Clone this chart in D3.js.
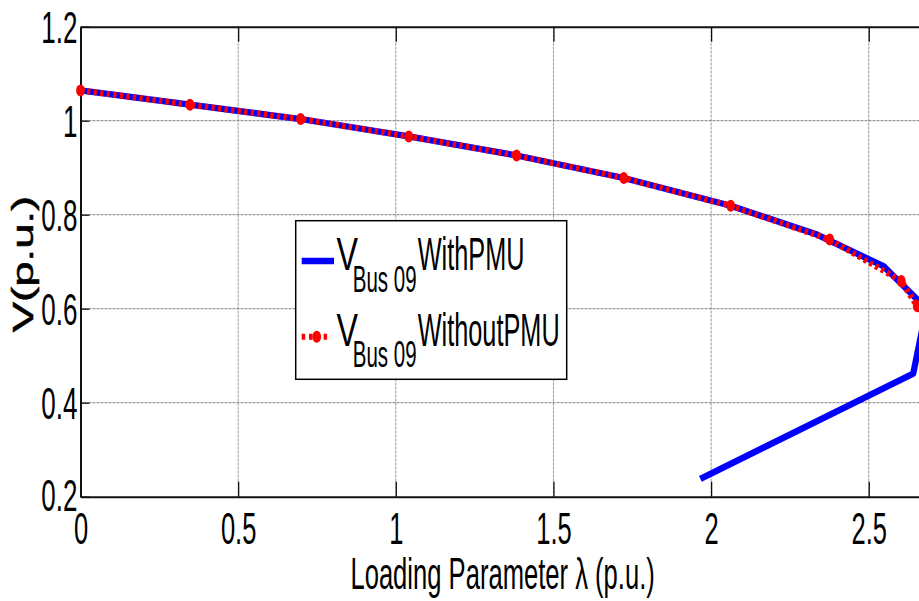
<!DOCTYPE html>
<html>
<head>
<meta charset="utf-8">
<script src="https://cdn.jsdelivr.net/npm/d3@7/dist/d3.min.js"></script>
<style>
  body { margin: 0; background: #fff; }
  svg { display: block; font-family: "Liberation Sans", Arial, sans-serif; }
</style>
</head>
<body>
<div id="chart"></div>
<script>
// values
const lambdaWithPMU = [0, 0.347, 0.698, 1.041, 1.383, 1.723, 2.062, 2.331, 2.548, 2.683, 2.641, 1.966];
const vWithPMU = [1.0645, 1.034, 1.0036, 0.9666, 0.926, 0.878, 0.819, 0.759, 0.690, 0.600, 0.462, 0.238];
const lambdaWithoutPMU = [0, 0.347, 0.698, 1.041, 1.383, 1.723, 2.062, 2.376, 2.603, 2.654];
const vWithoutPMU = [1.0645, 1.034, 1.0036, 0.9666, 0.926, 0.878, 0.819, 0.747, 0.659, 0.605];
const xTicks = [0, 0.5, 1, 1.5, 2, 2.5];
const xTickLabels = ["0", "0.5", "1", "1.5", "2", "2.5"];
const yTicks = [0.2, 0.4, 0.6, 0.8, 1, 1.2];
const yTickLabels = ["0.2", "0.4", "0.6", "0.8", "1", "1.2"];
const legendLabels = ["WithPMU", "WithoutPMU"];

const W = 919, H = 601;
const plotLeft = 80.5, plotTop = 26.7, plotBottom = 496.7, plotRight = 919.4;

const svg = d3.select("#chart").append("svg")
  .attr("width", W)
  .attr("height", H);

const x = d3.scaleLinear().domain([0, 2.6606]).range([plotLeft, plotRight]);
const y = d3.scaleLinear().domain([0.2, 1.2]).range([plotBottom, plotTop]);

svg.append("clipPath").attr("id", "clip")
  .append("rect").attr("x", 0).attr("y", 0).attr("width", W).attr("height", H);

// grid
const grid = svg.append("g").attr("class", "grid");
grid.selectAll(".gx")
  .data(xTicks.filter(d => d > 0))
  .enter().append("line")
  .attr("x1", d => x(d)).attr("x2", d => x(d))
  .attr("y1", plotTop).attr("y2", plotBottom)
  .attr("stroke", "#999").attr("stroke-width", 1).attr("stroke-dasharray", "3,1");
grid.selectAll(".gy")
  .data(yTicks.filter(d => d > 0.2 && d < 1.2))
  .enter().append("line")
  .attr("x1", plotLeft).attr("x2", W)
  .attr("y1", d => y(d)).attr("y2", d => y(d))
  .attr("stroke", "#808080").attr("stroke-width", 1).attr("stroke-dasharray", "3,1");

// axes
const xAxis = svg.append("g")
  .attr("transform", `translate(0,${plotBottom})`)
  .call(d3.axisBottom(x).tickValues(xTicks).tickSize(-15).tickSizeOuter(0)
    .tickFormat((d, i) => xTickLabels[i]));
xAxis.selectAll("text")
  .attr("y", null).attr("dy", null)
  .attr("transform", "translate(0,46.8) scale(1,1.74)")
  .attr("text-anchor", "middle")
  .style("font-size", "25.5px")
  .attr("fill", "#000");

svg.append("g")
  .attr("transform", `translate(0,${plotTop})`)
  .call(d3.axisTop(x).tickValues(xTicks).tickSize(-15).tickSizeOuter(0).tickFormat(""));

const yAxis = svg.append("g")
  .attr("transform", `translate(${plotLeft},0)`)
  .call(d3.axisLeft(y).tickValues(yTicks).tickSize(-9).tickSizeOuter(0)
    .tickFormat((d, i) => yTickLabels[i]));
yAxis.selectAll("text")
  .attr("x", null).attr("dy", null)
  .attr("transform", (d, i) => `translate(-3,${i === 0 ? 14 : 16}) scale(1,1.72)`)
  .attr("text-anchor", "end")
  .style("font-size", "26px")
  .attr("fill", "#000");

svg.selectAll(".domain").attr("stroke", "#111").attr("stroke-width", 2);
svg.selectAll(".tick line").attr("stroke", "#111").attr("stroke-width", 1.3);

// data
const plot = svg.append("g").attr("clip-path", "url(#clip)");
const line = d3.line().x(d => x(d[0])).y(d => y(d[1]));
const withData = lambdaWithPMU.map((l, i) => [l, vWithPMU[i]]);
const withoutData = lambdaWithoutPMU.map((l, i) => [l, vWithoutPMU[i]]);

plot.append("path")
  .datum(withData)
  .attr("fill", "none")
  .attr("stroke", "#0000ff")
  .attr("stroke-width", 6.3)
  .attr("stroke-linejoin", "round")
  .attr("d", line);

plot.append("path")
  .datum(withoutData)
  .attr("fill", "none")
  .attr("stroke", "#ff0000")
  .attr("stroke-width", 6)
  .attr("stroke-dasharray", "3.3,3.3")
  .attr("d", line);

plot.selectAll(".dot")
  .data(withoutData)
  .enter().append("ellipse")
  .attr("class", "dot")
  .attr("cx", d => x(d[0]))
  .attr("cy", d => y(d[1]))
  .attr("rx", 4.4)
  .attr("ry", 6)
  .attr("fill", "#ff0000");

// axis labels
svg.append("text")
  .attr("transform", "translate(502.6,589) scale(1,1.75)")
  .attr("text-anchor", "middle")
  .style("font-size", "25.6px")
  .text("Loading Parameter λ (p.u.)");

svg.append("text")
  .attr("transform", "translate(33.3,264) scale(1,1.58) rotate(-90)")
  .attr("text-anchor", "middle")
  .style("font-size", "28.8px")
  .style("stroke", "#000")
  .style("stroke-width", "0.5px")
  .text("V(p.u.)");

// legend
const legend = svg.append("g");
legend.append("rect")
  .attr("x", 295.7).attr("y", 220.7)
  .attr("width", 271).attr("height", 158.6)
  .attr("fill", "#fff")
  .attr("stroke", "#000")
  .attr("stroke-width", 1.5);

const rowY = [261, 336.7];
legend.append("line")
  .attr("x1", 301.7).attr("x2", 334)
  .attr("y1", rowY[0]).attr("y2", rowY[0])
  .attr("stroke", "#0000ff").attr("stroke-width", 6.5);
legend.append("line")
  .attr("x1", 301.7).attr("x2", 331)
  .attr("y1", rowY[1]).attr("y2", rowY[1])
  .attr("stroke", "#ff0000").attr("stroke-width", 6)
  .attr("stroke-dasharray", "3.5,3.8");
legend.append("ellipse")
  .attr("cx", 316.7).attr("cy", rowY[1])
  .attr("rx", 4.4).attr("ry", 6)
  .attr("fill", "#ff0000");

legendLabels.forEach((lab, i) => {
  const base = rowY[i] + 9;
  legend.append("text")
    .attr("transform", `translate(336.5,${base}) scale(1,1.82)`)
    .attr("textLength", 21.5)
    .attr("lengthAdjust", "spacingAndGlyphs")
    .style("font-size", "25.3px")
    .text("V");
  legend.append("text")
    .attr("transform", `translate(352.8,${base + 21.7}) scale(1,1.82)`)
    .style("font-size", "20.5px")
    .text("Bus 09");
  legend.append("text")
    .attr("transform", `translate(417.7,${base}) scale(1,1.82)`)
    .style("font-size", "25.3px")
    .text(lab);
});
</script>
</body>
</html>
